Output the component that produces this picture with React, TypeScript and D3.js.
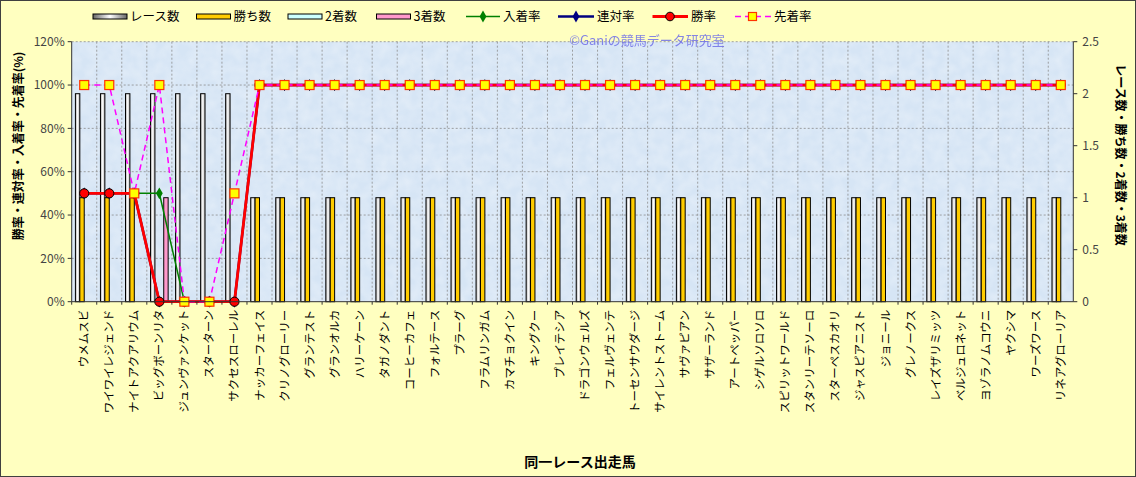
import React from "react";
import * as d3 from "d3";

const horses = [
  "ウメムスビ", "ワイワイレジェンド", "ナイトアクアリウム", "ビッグボーンリタ", "ジュンヴァンケット",
  "スターターン", "サクセスローレル", "ナッカーフェイス", "クリノグローリー", "グランテスト",
  "グランオルカ", "ハリーケーン", "タガノダント", "コーヒーカフェ", "フォルテース",
  "プラーグ", "フラムリンガム", "カマチョクイン", "キングクー", "プレイテシア",
  "ドラゴンウェルズ", "フェルヴェンテ", "トーセンサウダージ", "サイレントストーム", "サヴァピアン",
  "サザーランド", "アートペッパー", "シゲルソロソロ", "スピリットワールド", "スタンリーテソーロ",
  "スターペスカオリ", "ジャスピアニスト", "ジョニール", "グレノークス", "レイズザリミッツ",
  "ベルジュロネット", "ヨゾラノムコウニ", "ヤクシマ", "ワーズワース", "リネアグローリア",
];

const raceCount = [2, 2, 2, 2, 2, 2, 2, 1, 1, 1, 1, 1, 1, 1, 1, 1, 1, 1, 1, 1, 1, 1, 1, 1, 1, 1, 1, 1, 1, 1, 1, 1, 1, 1, 1, 1, 1, 1, 1, 1];
const winCount = [1, 1, 1, 0, 0, 0, 0, 1, 1, 1, 1, 1, 1, 1, 1, 1, 1, 1, 1, 1, 1, 1, 1, 1, 1, 1, 1, 1, 1, 1, 1, 1, 1, 1, 1, 1, 1, 1, 1, 1];
const secondCount = [0, 0, 0, 0, 0, 0, 0, 0, 0, 0, 0, 0, 0, 0, 0, 0, 0, 0, 0, 0, 0, 0, 0, 0, 0, 0, 0, 0, 0, 0, 0, 0, 0, 0, 0, 0, 0, 0, 0, 0];
const thirdCount = [0, 0, 0, 1, 0, 0, 0, 0, 0, 0, 0, 0, 0, 0, 0, 0, 0, 0, 0, 0, 0, 0, 0, 0, 0, 0, 0, 0, 0, 0, 0, 0, 0, 0, 0, 0, 0, 0, 0, 0];

const placeRate = [50, 50, 50, 50, 0, 0, 0, 100, 100, 100, 100, 100, 100, 100, 100, 100, 100, 100, 100, 100, 100, 100, 100, 100, 100, 100, 100, 100, 100, 100, 100, 100, 100, 100, 100, 100, 100, 100, 100, 100];
const rentaiRate = [50, 50, 50, 0, 0, 0, 0, 100, 100, 100, 100, 100, 100, 100, 100, 100, 100, 100, 100, 100, 100, 100, 100, 100, 100, 100, 100, 100, 100, 100, 100, 100, 100, 100, 100, 100, 100, 100, 100, 100];
const winRate = [50, 50, 50, 0, 0, 0, 0, 100, 100, 100, 100, 100, 100, 100, 100, 100, 100, 100, 100, 100, 100, 100, 100, 100, 100, 100, 100, 100, 100, 100, 100, 100, 100, 100, 100, 100, 100, 100, 100, 100];
const aheadRate = [100, 100, 50, 100, 0, 0, 50, 100, 100, 100, 100, 100, 100, 100, 100, 100, 100, 100, 100, 100, 100, 100, 100, 100, 100, 100, 100, 100, 100, 100, 100, 100, 100, 100, 100, 100, 100, 100, 100, 100];

const leftTicks = [0, 20, 40, 60, 80, 100, 120];
const rightTicks = [0, 0.5, 1, 1.5, 2, 2.5];

const W = 1136;
const H = 477;
const PL = 71.7, PR = 1073.3, PT = 41.7, PB = 301.7;
const FONT = "'Noto Sans CJK JP', sans-serif";

export default function App() {
  const x = d3.scaleBand<string>().domain(horses).range([PL, PR]).padding(0);
  const yL = d3.scaleLinear().domain([0, 120]).range([PB, PT]);
  const yR = d3.scaleLinear().domain([0, 2.5]).range([PB, PT]);
  const bw = x.bandwidth();
  const inner = d3.scaleBand<string>().domain(["race", "win", "second", "third"]).range([-8.8, 8.8]).padding(0);
  const cx = (i: number) => (x(horses[i]) as number) + bw / 2;

  const barSeries = [
    { key: "race", values: raceCount, fill: "url(#raceGrad)" },
    { key: "win", values: winCount, fill: "#FFCC00" },
    { key: "second", values: secondCount, fill: "#CCFFFF" },
    { key: "third", values: thirdCount, fill: "#FF99CC" },
  ];

  const line = d3.line<number>().x((_, i) => cx(i)).y((d) => yL(d));

  const diamond = d3.symbol().type(d3.symbolDiamond).size(40)() as string;

  const legendRects = [
    { label: "レース数", x: 93, fill: "url(#raceGradH)" },
    { label: "勝ち数", x: 196.5, fill: "#FFCC00" },
    { label: "2着数", x: 288, fill: "#CCFFFF" },
    { label: "3着数", x: 376.5, fill: "#FF99CC" },
  ];

  return (
    <svg width={W} height={H} style={{ position: "absolute", left: 0, top: 0 }} fontFamily={FONT}>
      <defs>
        <linearGradient id="raceGrad" x1="0" x2="1" y1="0" y2="0">
          <stop offset="0" stopColor="#a8a8a8" />
          <stop offset="0.5" stopColor="#ffffff" />
          <stop offset="1" stopColor="#a8a8a8" />
        </linearGradient>
        <linearGradient id="raceGradH" x1="0" x2="1" y1="0" y2="0">
          <stop offset="0" stopColor="#666666" />
          <stop offset="0.5" stopColor="#ffffff" />
          <stop offset="1" stopColor="#666666" />
        </linearGradient>
        <filter id="tex" x="0" y="0" width="100%" height="100%">
          <feTurbulence type="fractalNoise" baseFrequency="0.09" numOctaves="2" seed="3" result="n" />
          <feColorMatrix type="matrix" values="0 0 0 0 1  0 0 0 0 1  0 0 0 0 1  0 0 0 0.55 -0.15" />
        </filter>
      </defs>
      <rect x={0.5} y={0.5} width={W - 1} height={H - 1} fill="#FFFFC0" stroke="#404040" strokeWidth={1} />

      {/* plot area */}
      <rect x={PL} y={PT} width={PR - PL} height={PB - PT} fill="#D6E5F5" />
      <rect x={PL} y={PT} width={PR - PL} height={PB - PT} fill="#fff" filter="url(#tex)" opacity={0.8} />

      {/* gridlines */}
      {leftTicks.filter((t) => t > 0).map((t) => (
        <line key={"hg" + t} x1={PL} x2={PR} y1={yL(t)} y2={yL(t)} stroke="#8c8c8c" strokeWidth={0.8} strokeDasharray="2,2" />
      ))}
      {horses.slice(1).map((h) => (
        <line key={"vg" + h} x1={x(h)} x2={x(h)} y1={PT} y2={PB} stroke="#8c8c8c" strokeWidth={0.8} strokeDasharray="2,2" />
      ))}

      {/* watermark */}
      <text x={647} y={45} textAnchor="middle" fontSize={13} fill="#7070E8" opacity={0.85}>©Ganiの競馬データ研究室</text>

      {/* bars */}
      {barSeries.map((s) =>
        s.values.map((v, i) =>
          v > 0 ? (
            <rect
              key={s.key + i}
              x={cx(i) + (inner(s.key) as number)}
              y={yR(v)}
              width={inner.bandwidth()}
              height={PB - yR(v)}
              fill={s.fill}
              stroke="#000"
              strokeWidth={1}
            />
          ) : null
        )
      )}

      {/* lines */}
      <path d={line(placeRate) as string} fill="none" stroke="#008000" strokeWidth={1.5} />
      {placeRate.map((v, i) => (
        <path key={"pm" + i} d={diamond} transform={`translate(${cx(i)},${yL(v)})`} fill="#008000" />
      ))}
      <path d={line(rentaiRate) as string} fill="none" stroke="#000080" strokeWidth={2.5} />
      {rentaiRate.map((v, i) => (
        <path key={"rm" + i} d={diamond} transform={`translate(${cx(i)},${yL(v)})`} fill="#000080" />
      ))}
      <path d={line(winRate) as string} fill="none" stroke="#FF0000" strokeWidth={2.8} />
      {winRate.map((v, i) => (
        <circle key={"wm" + i} cx={cx(i)} cy={yL(v)} r={4.6} fill="#FF0000" stroke="#000" strokeWidth={1} />
      ))}
      <path d={line(aheadRate) as string} fill="none" stroke="#FF00FF" strokeWidth={1.5} strokeDasharray="6,4" />
      {aheadRate.map((v, i) => (
        <rect key={"am" + i} x={cx(i) - 4.5} y={yL(v) - 4.5} width={9} height={9} fill="#FFFF00" stroke="#FF3300" strokeWidth={1.2} />
      ))}

      {/* axes */}
      <line x1={PL} x2={PL} y1={PT} y2={PB} stroke="#333" strokeWidth={1} />
      <line x1={PR} x2={PR} y1={PT} y2={PB} stroke="#333" strokeWidth={1} />
      <line x1={PL} x2={PR} y1={PB} y2={PB} stroke="#333" strokeWidth={1} />
      {leftTicks.map((t) => (
        <g key={"lt" + t}>
          <line x1={PL - 4} x2={PL} y1={yL(t)} y2={yL(t)} stroke="#333" />
          <text x={PL - 7} y={yL(t)} dy="0.35em" textAnchor="end" fontSize={12} fill="#444">{t}%</text>
        </g>
      ))}
      {rightTicks.map((t) => (
        <g key={"rt" + t}>
          <line x1={PR} x2={PR + 4} y1={yR(t)} y2={yR(t)} stroke="#333" />
          <text x={PR + 9} y={yR(t)} dy="0.35em" textAnchor="start" fontSize={12} fill="#444">{t}</text>
        </g>
      ))}
      {horses.map((h) => (
        <line key={"xt" + h} x1={x(h)} x2={x(h)} y1={PB} y2={PB + 3} stroke="#333" />
      ))}

      {/* x labels */}
      {horses.map((h, i) => (
        <text key={"xl" + h} transform={`translate(${cx(i)},${PB + 8}) rotate(-90)`} textAnchor="end" dy="0.35em" fontSize={11.5} fill="#000">{h}</text>
      ))}

      {/* axis titles */}
      <text x={580} y={467} textAnchor="middle" fontSize={14} fontWeight="bold" fill="#000">同一レース出走馬</text>
      <text transform="translate(19,146) rotate(-90)" textAnchor="middle" dy="0.35em" fontSize={12} fontWeight="bold" fill="#000">勝率・連対率・入着率・先着率(%)</text>
      <text transform="translate(1120,155) rotate(90)" textAnchor="middle" dy="0.35em" fontSize={12} fontWeight="bold" fill="#000">レース数・勝ち数・2着数・3着数</text>

      {/* legend */}
      {legendRects.map((l) => (
        <g key={"lg" + l.label}>
          <rect x={l.x} y={14} width={34} height={5} fill={l.fill} stroke="#000" strokeWidth={1} />
          <text x={l.x + 37} y={17} dy="0.35em" fontSize={12.5} fill="#000">{l.label}</text>
        </g>
      ))}
      <g>
        <line x1={466} x2={500} y1={16.5} y2={16.5} stroke="#008000" strokeWidth={1.5} />
        <path d={diamond} transform="translate(483,16.5)" fill="#008000" />
        <text x={503} y={17} dy="0.35em" fontSize={12.5} fill="#000">入着率</text>
      </g>
      <g>
        <line x1={558} x2={594} y1={16.5} y2={16.5} stroke="#000080" strokeWidth={2.5} />
        <path d={diamond} transform="translate(576,16.5)" fill="#000080" />
        <text x={597} y={17} dy="0.35em" fontSize={12.5} fill="#000">連対率</text>
      </g>
      <g>
        <line x1={652.5} x2={688} y1={16.5} y2={16.5} stroke="#FF0000" strokeWidth={2.8} />
        <circle cx={670} cy={16.5} r={4.3} fill="#FF0000" stroke="#000" strokeWidth={1} />
        <text x={691} y={17} dy="0.35em" fontSize={12.5} fill="#000">勝率</text>
      </g>
      <g>
        <line x1={735} x2={771.5} y1={16.5} y2={16.5} stroke="#FF00FF" strokeWidth={1.5} strokeDasharray="6,4" />
        <rect x={748.5} y={12.5} width={8} height={8} fill="#FFFF00" stroke="#FF3300" strokeWidth={1.2} />
        <text x={774} y={17} dy="0.35em" fontSize={12.5} fill="#000">先着率</text>
      </g>
    </svg>
  );
}
